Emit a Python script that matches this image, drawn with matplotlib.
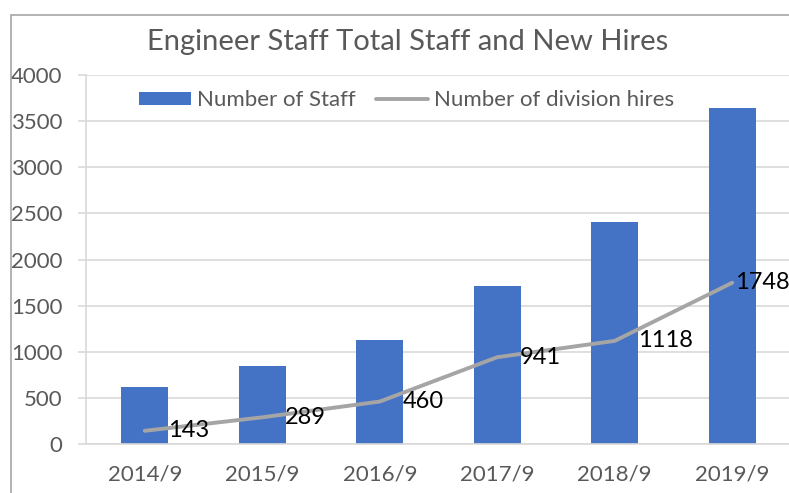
import matplotlib.pyplot as plt
import matplotlib.patches as mpatches
import numpy as np

plt.rcParams['font.family'] = ['Lato', 'DejaVu Sans']

years = ['2014/9', '2015/9', '2016/9', '2017/9', '2018/9', '2019/9']
staff = [618, 845, 1127, 1713, 2408, 3640]
hires = [143, 289, 460, 941, 1118, 1748]

fig = plt.figure(figsize=(7.89, 4.93), dpi=100)
# chart frame (Excel style border, cropped on right/bottom)
fig.patches.append(mpatches.Rectangle((11/789, -0.1), 1.2, 1 - 15/493 + 0.1,
                                      transform=fig.transFigure, fill=False,
                                      edgecolor='#A6A6A6', linewidth=1.2))

ax = fig.add_axes([86/789, 1 - 444/493, 705/789, 369/493])
x = np.arange(len(years))
bars = ax.bar(x, staff, width=0.4, color='#4472C4', label='Number of Staff', zorder=2)
line, = ax.plot(x, hires, color='#A5A5A5', linewidth=2.8, label='Number of division hires',
                solid_capstyle='round', zorder=3)
for i, (xi, v) in enumerate(zip(x, hires)):
    off = 16.5 if i < len(hires) - 1 else 2  # last label pushed back inside chart
    ax.annotate(str(v), (xi, v), xytext=(off, 0), textcoords='offset points',
                ha='left', va='center', fontsize=17, color='black', zorder=4,
                annotation_clip=False)

ax.set_xlim(-0.5, len(years) - 0.5)
ax.set_ylim(0, 4000)
ax.set_yticks(np.arange(0, 4001, 500))
ax.set_xticks(x)
ax.set_xticklabels(years)
ax.yaxis.grid(True, color='#D9D9D9', linewidth=1.2, zorder=0)
ax.set_axisbelow(True)
for s in ['top', 'right']:
    ax.spines[s].set_visible(False)
ax.spines['left'].set_color('#D9D9D9')
ax.spines['bottom'].set_color('#D9D9D9')
ax.spines['left'].set_linewidth(1.2)
ax.spines['bottom'].set_linewidth(1.2)
ax.tick_params(axis='y', colors='#D9D9D9', labelcolor='#595959', labelsize=16,
               length=6, width=1.2, pad=11)
ax.tick_params(axis='x', length=0, labelcolor='#595959', labelsize=16, pad=15)

fig.text(407.5/789, 1 - 42/493, 'Engineer Staff Total Staff and New Hires',
         ha='center', va='center', fontsize=21, color='#595959')

ax.legend([bars, line], ['Number of Staff', 'Number of division hires'],
          loc='center', bbox_to_anchor=(0.4546, 0.932), ncol=2,
          frameon=False, fontsize=16, labelcolor='#595959', handlelength=2.35,
          handleheight=0.55, handletextpad=0.27, columnspacing=0.9,
          borderpad=0, borderaxespad=0)

plt.savefig('out.png')
